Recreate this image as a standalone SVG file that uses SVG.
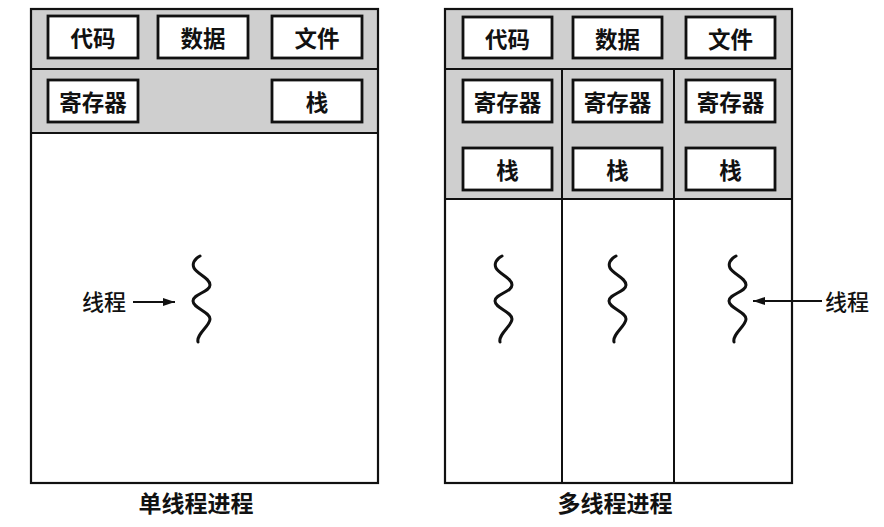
<svg xmlns="http://www.w3.org/2000/svg" width="884" height="527" viewBox="0 0 884 527">
<defs>
<style>
.bg{fill:#ffffff}
.shade{fill:#cfcfcf}
.frame{fill:none;stroke:#111;stroke-width:2.2}
.div{stroke:#111;stroke-width:2;fill:none}
.box{fill:#ffffff;stroke:#111;stroke-width:2.8}
.lbl{font-family:"Noto Sans CJK SC","Noto Sans",sans-serif;font-size:22.5px;font-weight:bold;fill:#111;text-anchor:middle;dominant-baseline:central}
.cap{font-family:"Noto Sans CJK SC","Noto Sans",sans-serif;font-size:23px;font-weight:bold;fill:#111;text-anchor:middle;dominant-baseline:central}
.side{font-family:"Noto Sans CJK SC","Noto Sans",sans-serif;font-size:22px;font-weight:500;fill:#111;text-anchor:middle;dominant-baseline:central}
.wave{fill:none;stroke:#111;stroke-width:3;stroke-linecap:round}
.arr{stroke:#111;stroke-width:1.8;fill:none}
</style>
<marker id="ah" viewBox="0 0 12 8" refX="12" refY="4" markerWidth="12" markerHeight="8" markerUnits="userSpaceOnUse" orient="auto">
<path d="M0,0 L12,4 L0,8 Z" fill="#111"/>
</marker>
<path id="wv" d="M0,0 C-6,3 -8,8 -6,12 C-3,18 10,22 10,29 C10,36 -7,38 -7,45 C-7,52 10,56 10,63 C10,70 -4,78 -2,86"/>
</defs>

<g id="single-process">
<rect class="bg" x="31" y="9" width="347" height="474"/>
<rect class="shade" x="31" y="9" width="347" height="124"/>
<line class="div" x1="31" y1="69" x2="378" y2="69"/>
<line class="div" x1="31" y1="133" x2="378" y2="133"/>
<rect class="frame" x="31" y="9" width="347" height="474"/>
</g>

<g id="multi-process">
<rect class="bg" x="445" y="9" width="347" height="474"/>
<rect class="shade" x="445" y="9" width="347" height="190"/>
<line class="div" x1="445" y1="69" x2="792" y2="69"/>
<line class="div" x1="445" y1="199" x2="792" y2="199"/>
<line class="div" x1="562" y1="69" x2="562" y2="483"/>
<line class="div" x1="674" y1="69" x2="674" y2="483"/>
<rect class="frame" x="445" y="9" width="347" height="474"/>
</g>

<g id="s-code"><rect class="box" x="48" y="16" width="90" height="42"/><text class="lbl" x="93" y="37">代码</text></g>
<g id="s-data"><rect class="box" x="158" y="16" width="90" height="42"/><text class="lbl" x="203" y="37">数据</text></g>
<g id="s-file"><rect class="box" x="272" y="16" width="90" height="42"/><text class="lbl" x="317" y="37">文件</text></g>
<g id="s-reg"><rect class="box" x="48" y="80" width="90" height="42"/><text class="lbl" x="93" y="101">寄存器</text></g>
<g id="s-stack"><rect class="box" x="272" y="80" width="90" height="42"/><text class="lbl" x="317" y="101">栈</text></g>

<g id="m-code"><rect class="box" x="463" y="17" width="89" height="41"/><text class="lbl" x="507.5" y="37.5">代码</text></g>
<g id="m-data"><rect class="box" x="573" y="17" width="89" height="41"/><text class="lbl" x="617.5" y="37.5">数据</text></g>
<g id="m-file"><rect class="box" x="686" y="17" width="89" height="41"/><text class="lbl" x="730.5" y="37.5">文件</text></g>
<g id="m-reg1"><rect class="box" x="463" y="80" width="89" height="42"/><text class="lbl" x="507.5" y="101">寄存器</text></g>
<g id="m-reg2"><rect class="box" x="573" y="80" width="89" height="42"/><text class="lbl" x="617.5" y="101">寄存器</text></g>
<g id="m-reg3"><rect class="box" x="686" y="80" width="89" height="42"/><text class="lbl" x="730.5" y="101">寄存器</text></g>
<g id="m-stack1"><rect class="box" x="463" y="148" width="89" height="42"/><text class="lbl" x="507.5" y="169">栈</text></g>
<g id="m-stack2"><rect class="box" x="573" y="148" width="89" height="42"/><text class="lbl" x="617.5" y="169">栈</text></g>
<g id="m-stack3"><rect class="box" x="686" y="148" width="89" height="42"/><text class="lbl" x="730.5" y="169">栈</text></g>

<g id="s-thread"><use href="#wv" class="wave" transform="translate(200,256)"/></g>
<g id="m-thread1"><use href="#wv" class="wave" transform="translate(502,256)"/></g>
<g id="m-thread2"><use href="#wv" class="wave" transform="translate(616,256)"/></g>
<g id="m-thread3"><use href="#wv" class="wave" transform="translate(736,256)"/></g>

<g id="connectors">
<line class="arr" x1="133" y1="302" x2="175" y2="302" marker-end="url(#ah)"/>
<line class="arr" x1="822" y1="301" x2="753" y2="301" marker-end="url(#ah)"/>
</g>

<g id="labels">
<text class="side" x="104" y="300">线程</text>
<text class="side" x="847" y="300">线程</text>
<text class="cap" x="196" y="502">单线程进程</text>
<text class="cap" x="615" y="502">多线程进程</text>
</g>
</svg>
